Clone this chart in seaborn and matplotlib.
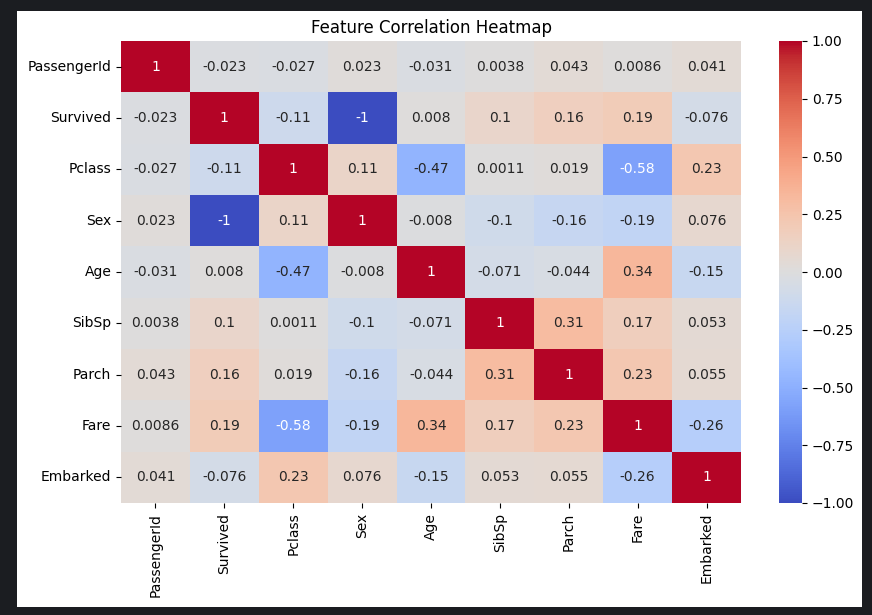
import numpy as np
import pandas as pd
import matplotlib
matplotlib.use("Agg")
import matplotlib.pyplot as plt
import seaborn as sns
from matplotlib.patches import Rectangle

features = ["PassengerId", "Survived", "Pclass", "Sex", "Age", "SibSp", "Parch", "Fare", "Embarked"]
row_passengerid = [1, -0.023, -0.027, 0.023, -0.031, 0.0038, 0.043, 0.0086, 0.041]
row_survived = [-0.023, 1, -0.11, -1, 0.008, 0.1, 0.16, 0.19, -0.076]
row_pclass = [-0.027, -0.11, 1, 0.11, -0.47, 0.0011, 0.019, -0.58, 0.23]
row_sex = [0.023, -1, 0.11, 1, -0.008, -0.1, -0.16, -0.19, 0.076]
row_age = [-0.031, 0.008, -0.47, -0.008, 1, -0.071, -0.044, 0.34, -0.15]
row_sibsp = [0.0038, 0.1, 0.0011, -0.1, -0.071, 1, 0.31, 0.17, 0.053]
row_parch = [0.043, 0.16, 0.019, -0.16, -0.044, 0.31, 1, 0.23, 0.055]
row_fare = [0.0086, 0.19, -0.58, -0.19, 0.34, 0.17, 0.23, 1, -0.26]
row_embarked = [0.041, -0.076, 0.23, 0.076, -0.15, 0.053, 0.055, -0.26, 1]

corr = pd.DataFrame(
    [row_passengerid, row_survived, row_pclass, row_sex, row_age,
     row_sibsp, row_parch, row_fare, row_embarked],
    index=features, columns=features)

W, H = 872, 615
fig = plt.figure(figsize=(W / 100, H / 100), dpi=100)
fig.patch.set_facecolor("#1b1d21")
bg = Rectangle((17 / W, 1 - 607 / H), (862 - 17) / W, (607 - 11) / H,
               transform=fig.transFigure, facecolor="white",
               edgecolor="none", zorder=-10)
fig.add_artist(bg)

ax = fig.add_axes([121 / W, 1 - 503 / H, (741 - 121) / W, (503 - 41) / H])
cax = fig.add_axes([779 / W, 1 - 503 / H, (802 - 779) / W, (503 - 41) / H])

sns.heatmap(corr, annot=True, cmap="coolwarm", vmin=-1, vmax=1, ax=ax, cbar_ax=cax)
ax.set_title("Feature Correlation Heatmap", fontsize=12)
cax.set_yticks([-1, -0.75, -0.5, -0.25, 0, 0.25, 0.5, 0.75, 1])
cax.set_yticklabels(["−1.00", "−0.75", "−0.50", "−0.25", "0.00", "0.25", "0.50", "0.75", "1.00"])

fig.savefig("out.png", dpi=100, facecolor=fig.get_facecolor())
